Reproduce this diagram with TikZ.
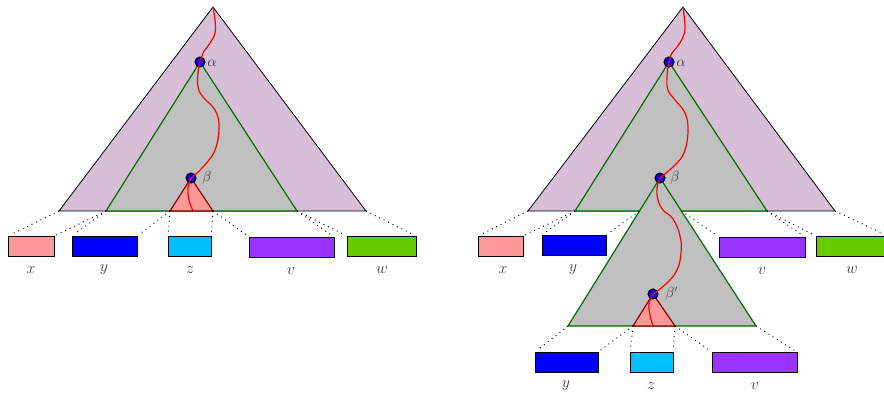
\documentclass[tikz,border=0pt]{standalone}
\usetikzlibrary{calc}
\definecolor{outerfill}{RGB}{216,191,216}
\definecolor{innerfill}{RGB}{192,192,192}
\definecolor{treegreen}{RGB}{0,110,0}
\definecolor{pinkfill}{RGB}{255,153,153}
\definecolor{darkredline}{RGB}{140,0,0}
\definecolor{cyanfill}{RGB}{0,191,255}
\definecolor{purplefill}{RGB}{153,51,255}
\definecolor{greenfill}{RGB}{102,204,0}
\definecolor{labgray}{RGB}{60,60,60}
\tikzset{
  outertri/.style={fill=outerfill, draw=black, line width=0.6pt, line join=miter},
  innertri/.style={fill=innerfill, draw=treegreen, line width=0.9pt},
  redtri/.style={fill=pinkfill, draw=darkredline, line width=0.9pt},
  redpath/.style={draw=red, line width=0.9pt},
  vdot/.style={circle, fill=blue, draw=black, line width=0.8pt, minimum size=7.5pt, inner sep=0pt},
  leafbox/.style={draw=black, line width=0.7pt, anchor=north west, inner sep=0pt, outer sep=0pt, minimum height=15pt},
  bwd/.style={minimum width=#1*0.75pt},
  leaflab/.style={text=labgray, font=\fontsize{13}{15}\selectfont, inner sep=0pt},
  greeklab/.style={text=labgray, font=\fontsize{10.5}{12}\selectfont, inner sep=0pt, anchor=west},
  dots/.style={line width=0.7pt, dash pattern=on 0.7pt off 3pt, shorten >=2pt}
}
\begin{document}
\begin{tikzpicture}[x=0.75pt,y=-0.75pt]
\useasboundingbox (0,0) rectangle (884,394);

% ================= LEFT =================
\coordinate (A1) at (213,7);
\coordinate (OL1) at (59,211);
\coordinate (OR1) at (366,211);
\coordinate (alpha1) at (200,62);
\coordinate (GL1) at (106,211);
\coordinate (GR1) at (297,211);
\coordinate (beta1) at (191,178);
\coordinate (RL1) at (170,211);
\coordinate (RR1) at (213,211);

\draw[outertri] (A1) -- (OR1) -- (OL1) -- cycle;
\draw[innertri] (alpha1) -- (GR1) -- (GL1) -- cycle;
\draw[redtri] (beta1) -- (RR1) -- (RL1) -- cycle;
\node[vdot] (da1) at (alpha1) {};
\node[vdot] (db1) at (beta1) {};
\draw[redpath] plot[smooth, tension=0.7] coordinates {(213,7) (215,20) (215,33) (210,43) (203,53) (200,62) (198,73) (198,87) (203,97) (215,110) (219,127) (215,150) (203,167) (191,178)};
\draw[redpath] plot[smooth, tension=0.7] coordinates {(191,178) (188,188) (189,200) (193,211)};
\node[greeklab] (la1) at (207,63) {$\alpha$};
\node[greeklab] (lb1) at (202,178) {$\beta$};

\node[leafbox, bwd=46, fill=pinkfill] (bx1) at (8,236) {};
\node[leafbox, bwd=65, fill=blue] (by1) at (72,236) {};
\node[leafbox, bwd=43, fill=cyanfill] (bz1) at (168,236) {};
\node[leafbox, bwd=85, fill=purplefill] (bv1) at (249,237) {};
\node[leafbox, bwd=69, fill=greenfill] (bw1) at (347,236) {};

\node[leaflab] (tx1) at (31,270) {$x$};
\node[leaflab] (ty1) at (104,270) {$y$};
\node[leaflab] (tz1) at (190,270) {$z$};
\node[leaflab] (tv1) at (291,271) {$v$};
\node[leaflab] (tw1) at (382,270) {$w$};

\draw[dots] (OL1) -- (bx1.north west);
\draw[dots] (GL1) -- (bx1.north east);
\draw[dots] (GL1) -- (by1.north west);
\draw[dots] (RL1) -- (by1.north east);
\draw[dots] (RL1) -- (bz1.north west);
\draw[dots] (RR1) -- (bz1.north east);
\draw[dots] (RR1) -- (bv1.north west);
\draw[dots] (GR1) -- (bv1.north east);
\draw[dots] (GR1) -- (bw1.north west);
\draw[dots] (OR1) -- (bw1.north east);

% ================= RIGHT =================
\coordinate (A2) at (683,7);
\coordinate (OL2) at (528,211);
\coordinate (OR2) at (835,211);
\coordinate (alpha2) at (669,62);
\coordinate (GL2) at (575,211);
\coordinate (GR2) at (767,211);
\coordinate (beta2) at (660,178);
\coordinate (LL) at (568,326);
\coordinate (LR) at (756,326);
\coordinate (X1) at ($(beta2)!{33/148}!(LL)$);
\coordinate (X2) at ($(beta2)!{33/148}!(LR)$);
\coordinate (beta3) at (653,294);
\coordinate (RL3) at (633,326);
\coordinate (RR3) at (675,326);

\draw[outertri] (A2) -- (OR2) -- (OL2) -- cycle;
\draw[innertri] (alpha2) -- (GR2) -- (GL2) -- cycle;
\draw[innertri] (beta2) -- (LR) -- (LL) -- cycle;
\draw[redtri] (beta3) -- (RR3) -- (RL3) -- cycle;
\node[vdot] (da2) at (alpha2) {};
\node[vdot] (db2) at (beta2) {};
\node[vdot] (db3) at (beta3) {};
\draw[redpath] plot[smooth, tension=0.7] coordinates {(683,7) (685,27) (683,37) (677,47) (672,53) (669,62) (667,77) (668,90) (675,100) (685,113) (688,130) (685,150) (677,163) (660,178)};
\draw[redpath] plot[smooth, tension=0.7] coordinates {(660,178) (657,188) (658,200) (663,210) (673,219) (680,236) (681,253) (677,270) (667,283) (653,294)};
\draw[redpath] plot[smooth, tension=0.7] coordinates {(653,294) (649,304) (650,315) (653,326)};
\node[greeklab] (la2) at (676,63) {$\alpha$};
\node[greeklab] (lb2) at (670,178) {$\beta$};
\node[greeklab] (lb3) at (665,294) {$\beta'$};

\node[leafbox, bwd=45, fill=pinkfill] (bx2) at (478,236) {};
\node[leafbox, bwd=64, fill=blue] (by2) at (542,235) {};
\node[leafbox, bwd=86, fill=purplefill] (bv2) at (719,237) {};
\node[leafbox, bwd=72, fill=greenfill] (bw2) at (816,236) {};

\node[leaflab] (tx2) at (503,270) {$x$};
\node[leaflab] (ty2) at (573,270) {$y$};
\node[leaflab] (tv2) at (762,271) {$v$};
\node[leaflab] (tw2) at (852,270) {$w$};

\draw[dots] (OL2) -- (bx2.north west);
\draw[dots] (GL2) -- (bx2.north east);
\draw[dots] (GL2) -- (by2.north west);
\draw[dots] (X1) -- (by2.north east);
\draw[dots] (X2) -- (bv2.north west);
\draw[dots] (GR2) -- (bv2.north east);
\draw[dots] (GR2) -- (bw2.north west);
\draw[dots] (OR2) -- (bw2.north east);

\node[leafbox, bwd=63, fill=blue] (by3) at (535,352) {};
\node[leafbox, bwd=43, fill=cyanfill] (bz3) at (630,352) {};
\node[leafbox, bwd=85, fill=purplefill] (bv3) at (712,352) {};

\node[leaflab] (ty3) at (566,386) {$y$};
\node[leaflab] (tz3) at (651,386) {$z$};
\node[leaflab] (tv3) at (755,386) {$v$};

\draw[dots] (LL) -- (by3.north west);
\draw[dots] (RL3) -- (by3.north east);
\draw[dots] (RL3) -- (bz3.north west);
\draw[dots] (RR3) -- (bz3.north east);
\draw[dots] (RR3) -- (bv3.north west);
\draw[dots] (LR) -- (bv3.north east);
\end{tikzpicture}
\end{document}
